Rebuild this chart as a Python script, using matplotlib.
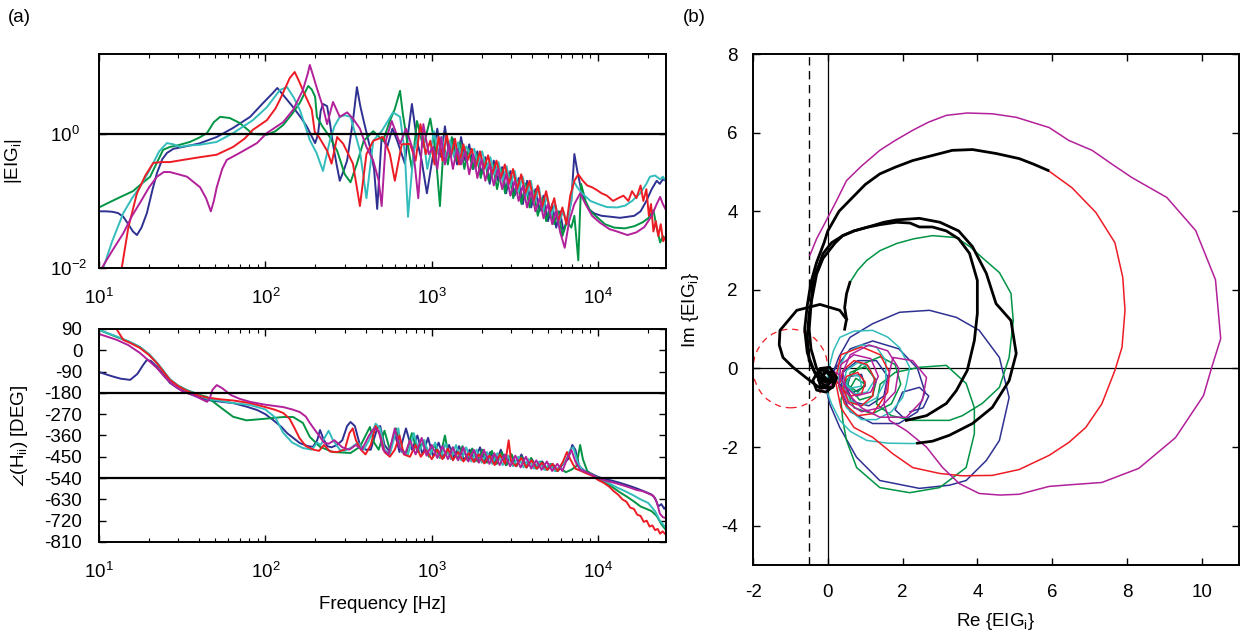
import numpy as np
import matplotlib.pyplot as plt
from matplotlib.patches import Circle

plt.rcParams['font.family'] = ['Liberation Sans', 'DejaVu Sans']
plt.rcParams['mathtext.default'] = 'regular'
plt.rcParams['axes.unicode_minus'] = False
plt.rcParams['font.size'] = 13.5

# line colours per eigenvalue
c_blue = '#2e3192'
c_green = '#009444'
c_red = '#ed1c24'
c_cyan = '#33bcbc'
c_mag = '#b2209a'

# |EIG_i| vs frequency (Hz, magnitude)
mag_blue = [(10, 0.07), (11, 0.07), (12, 0.069), (13, 0.066), (14, 0.058), (15, 0.045), (16, 0.035),
            (16.9, 0.031), (18, 0.04), (19.4, 0.066), (21, 0.15), (22.3, 0.26), (24, 0.42), (25.6, 0.52),
            (28, 0.6), (32, 0.64), (40, 0.72), (51, 0.9), (64, 1.23), (81, 1.8), (97, 2.9), (110, 4.0),
            (118, 4.85), (128, 3.8), (147, 2.5), (165, 1.7), (178, 1.27), (199, 0.73), (207, 0.97),
            (215, 2.2), (222, 2.8), (235, 2.6), (245, 1.4), (255, 0.7), (268, 0.35), (280, 0.2), (295, 0.28),
            (310, 0.4), (336, 1.56), (355, 5.0), (372, 2.6), (390, 1.56), (425, 0.64), (450, 0.3),
            (470, 0.076), (500, 0.9), (540, 0.64), (580, 1.2), (620, 0.79), (690, 0.36), (720, 1.0),
            (760, 2.8), (815, 0.79), (870, 0.4), (935, 0.13), (1020, 0.5), (1080, 1.2), (1140, 0.45),
            (1200, 1.3), (1270, 0.5), (1340, 0.85), (1420, 0.35), (1500, 0.9), (1590, 0.4), (1680, 0.7),
            (1780, 0.3), (1880, 0.55), (1990, 0.25), (2100, 0.45), (2230, 0.18), (2360, 0.4), (2500, 0.2),
            (2650, 0.32), (2800, 0.13), (2970, 0.28), (3150, 0.12), (3330, 0.22), (3530, 0.09), (3740, 0.2),
            (3960, 0.08), (4200, 0.15), (4450, 0.07), (4700, 0.12), (5000, 0.05), (5300, 0.09), (5600, 0.04),
            (5900, 0.07), (6200, 0.035), (6600, 0.06), (6900, 0.1), (7200, 0.5), (7500, 0.28), (7900, 0.15),
            (8300, 0.1), (8800, 0.075), (9500, 0.065), (10500, 0.06), (12000, 0.058), (13500, 0.056),
            (15000, 0.058), (16500, 0.06), (18000, 0.07), (19500, 0.1), (21000, 0.15), (22500, 0.2),
            (23500, 0.18), (24500, 0.21), (25600, 0.2)]
mag_green = [(10, 0.08), (12, 0.1), (14, 0.12), (16, 0.14), (18, 0.18), (20.3, 0.23), (22, 0.35), (24.3, 0.58),
             (26.7, 0.64), (30, 0.68), (35.2, 0.76), (40, 0.88), (44.6, 1.03), (49, 1.5), (53.5, 1.8), (61, 1.73),
             (70, 1.46), (84, 1.0), (102, 0.97), (115, 1.1), (128, 1.36), (145, 2.0), (161, 2.9), (181, 5.2),
             (190, 4.6), (199, 3.6), (204, 1.8), (220, 1.3), (244, 0.9), (270, 0.56), (300, 0.25), (325, 0.19),
             (355, 0.36), (390, 0.79), (445, 1.1), (510, 0.79), (560, 1.56), (600, 2.36), (645, 4.4),
             (670, 2.0), (705, 0.9), (760, 0.3), (815, 1.56), (890, 0.64), (980, 1.7), (1050, 0.6),
             (1120, 0.084), (1180, 0.7), (1250, 0.35), (1320, 0.9), (1400, 0.4), (1480, 0.75), (1570, 0.3),
             (1660, 0.6), (1760, 0.3), (1860, 0.5), (1970, 0.22), (2080, 0.42), (2200, 0.2), (2330, 0.35),
             (2470, 0.15), (2610, 0.3), (2760, 0.13), (2920, 0.25), (3090, 0.11), (3270, 0.2), (3460, 0.09),
             (3660, 0.18), (3870, 0.08), (4100, 0.14), (4340, 0.06), (4600, 0.11), (4870, 0.05), (5150, 0.08),
             (5450, 0.045), (5770, 0.07), (6100, 0.03), (6500, 0.05), (6900, 0.04), (7200, 0.06), (7600, 0.013),
             (7900, 0.18), (8400, 0.1), (9000, 0.07), (9800, 0.058), (11000, 0.045), (12500, 0.04),
             (14500, 0.039), (16500, 0.042), (18500, 0.048), (20000, 0.055), (21500, 0.073), (22500, 0.04),
             (23600, 0.024), (24500, 0.03), (25600, 0.026)]
mag_red = [(13.2, 0.007), (13.7, 0.01), (15, 0.04), (16.9, 0.13), (19, 0.24), (21.2, 0.37), (24, 0.38), (26.7, 0.38),
           (32, 0.41), (40.5, 0.45), (51, 0.49), (64, 0.64), (75, 0.85), (84, 1.15), (102, 1.6), (115, 2.4),
           (122, 3.2), (140, 6.8), (150, 8.4), (160, 6.0), (168, 4.5), (190, 2.3), (198, 1.07), (210, 0.9),
           (235, 0.56), (250, 0.36), (270, 0.9), (294, 0.71), (336, 0.36), (370, 0.084), (405, 0.5), (445, 0.79),
           (510, 0.9), (560, 0.5), (600, 0.2), (660, 0.7), (740, 0.71), (800, 0.4), (855, 1.4), (920, 0.5),
           (980, 0.79), (1040, 0.35), (1100, 0.9), (1160, 0.4), (1230, 1.0), (1300, 0.45), (1380, 0.85),
           (1460, 0.35), (1550, 0.7), (1640, 0.4), (1740, 0.6), (1840, 0.32), (1950, 0.55), (2060, 0.3),
           (2180, 0.48), (2310, 0.25), (2450, 0.4), (2600, 0.22), (2750, 0.35), (2910, 0.18), (3080, 0.3),
           (3260, 0.15), (3450, 0.25), (3650, 0.13), (3870, 0.2), (4100, 0.1), (4340, 0.17), (4600, 0.08),
           (4870, 0.14), (5150, 0.07), (5450, 0.11), (5770, 0.05), (6100, 0.08), (6450, 0.045), (6800, 0.12),
           (7200, 0.2), (7600, 0.25), (8100, 0.2), (8600, 0.17), (9200, 0.16), (9800, 0.146), (10500, 0.13),
           (11300, 0.12), (12300, 0.1), (13200, 0.11), (14200, 0.12), (15200, 0.1), (16000, 0.14),
           (17000, 0.11), (18000, 0.17), (18700, 0.1), (19500, 0.15), (20200, 0.06), (20800, 0.09),
           (21500, 0.035), (22200, 0.05), (23000, 0.03), (23800, 0.045), (24600, 0.025), (25600, 0.03)]
mag_cyan = [(10.3, 0.007), (10.6, 0.01), (12, 0.025), (14, 0.066), (15.8, 0.11), (17.6, 0.16), (19.5, 0.25),
            (21.2, 0.37), (23, 0.55), (25.6, 0.73), (28, 0.7), (30.6, 0.64), (34, 0.67), (40.5, 0.69), (51, 0.76),
            (64, 1.03), (84, 1.6), (102, 2.5), (122, 4.5), (135, 5.0), (148, 3.5), (161, 2.3), (185, 0.81),
            (203, 0.52), (222, 0.28), (244, 0.79), (260, 1.3), (280, 1.8), (300, 1.9), (325, 1.8), (370, 0.56),
            (405, 0.11), (445, 0.79), (500, 1.1), (540, 1.5), (585, 2.1), (645, 1.8), (690, 0.5), (720, 0.058),
            (775, 0.5), (830, 1.0), (890, 0.9), (940, 0.3), (980, 0.5), (1030, 1.1), (1090, 0.5), (1150, 0.9),
            (1220, 0.4), (1290, 0.8), (1360, 0.45), (1440, 0.75), (1520, 0.4), (1610, 0.65), (1700, 0.5),
            (1800, 0.6), (1900, 0.35), (2010, 0.55), (2130, 0.3), (2250, 0.45), (2380, 0.25), (2520, 0.38),
            (2670, 0.2), (2820, 0.33), (2980, 0.17), (3150, 0.28), (3330, 0.14), (3520, 0.23), (3720, 0.12),
            (3940, 0.2), (4170, 0.1), (4410, 0.16), (4660, 0.07), (4930, 0.12), (5220, 0.06), (5520, 0.09),
            (5840, 0.05), (6180, 0.07), (6540, 0.045), (6900, 0.1), (7100, 0.2), (7500, 0.16), (8000, 0.13),
            (9000, 0.1), (10000, 0.09), (11300, 0.081), (13000, 0.08), (14500, 0.085), (16000, 0.1),
            (17900, 0.13), (19500, 0.18), (20500, 0.23), (22000, 0.24), (23600, 0.21), (24500, 0.23),
            (25600, 0.2)]
mag_mag = [(10.2, 0.007), (10.4, 0.01), (12, 0.018), (14, 0.033), (15.8, 0.06), (17.6, 0.093), (20, 0.16),
           (22.3, 0.23), (24.5, 0.27), (26.7, 0.27), (30, 0.25), (33.8, 0.23), (40.5, 0.16), (44, 0.11), (47, 0.07),
           (49, 0.1), (51, 0.16), (55, 0.3), (58.6, 0.41), (70, 0.52), (89, 0.73), (102, 1.03), (128, 1.5),
           (147, 2.3), (168, 4.5), (180, 8.0), (185, 10.7), (195, 7.0), (203, 5.0), (222, 2.5), (235, 1.4),
           (255, 3.0), (280, 1.8), (310, 2.1), (336, 1.7), (370, 1.2), (405, 0.64), (445, 0.4), (480, 0.2),
           (500, 0.084), (530, 0.8), (575, 1.56), (645, 0.71), (700, 1.2), (775, 0.56), (830, 0.11), (890, 1.4),
           (960, 0.5), (1020, 0.64), (1080, 0.3), (1140, 0.9), (1200, 0.35), (1270, 0.7), (1340, 0.3),
           (1420, 0.6), (1500, 0.35), (1590, 0.55), (1680, 0.25), (1780, 0.5), (1880, 0.22), (1990, 0.42),
           (2100, 0.2), (2230, 0.35), (2360, 0.17), (2500, 0.3), (2650, 0.15), (2800, 0.25), (2970, 0.12),
           (3150, 0.2), (3330, 0.1), (3530, 0.17), (3740, 0.08), (3960, 0.14), (4200, 0.07), (4450, 0.11),
           (4700, 0.055), (5000, 0.09), (5300, 0.045), (5600, 0.07), (5900, 0.035), (6300, 0.02), (6700, 0.05),
           (7200, 0.09), (7800, 0.13), (8400, 0.09), (9200, 0.06), (10300, 0.047), (11700, 0.038),
           (13000, 0.035), (15000, 0.031), (17000, 0.034), (19000, 0.041), (21000, 0.06), (22500, 0.09),
           (23600, 0.115), (24500, 0.09), (25600, 0.073)]

# phase vs frequency (Hz, degrees)
ph_blue = [(10, -92), (12, -110), (13.5, -120), (15.4, -125), (17, -100), (18.5, -60), (19.4, -41), (20.5, -45),
           (22.3, -70), (24.5, -105), (26.7, -138), (30, -162), (33.8, -180), (40, -200), (44.6, -210), (55, -218),
           (64, -223), (77, -238), (89, -252), (100, -270), (111, -294), (125, -324), (135, -350), (150, -375),
           (161, -392), (180, -405), (193, -408), (205, -380), (213, -337), (222, -370), (235, -405), (250, -410),
           (270, -400), (290, -380), (310, -320), (325, -303), (345, -320), (370, -400), (400, -420), (430, -420),
           (470, -330), (490, -320), (520, -400), (560, -430), (600, -350), (640, -430), (700, -330), (760, -420),
           (820, -360), (880, -440), (950, -370), (1020, -450), (1100, -390), (1180, -455), (1270, -400),
           (1360, -455), (1460, -405), (1570, -465), (1690, -420), (1810, -470), (1950, -410), (2090, -475),
           (2250, -430), (2420, -480), (2600, -420), (2790, -485), (3000, -440), (3220, -490), (3460, -440),
           (3720, -495), (4000, -460), (4300, -500), (4620, -470), (4960, -505), (5330, -480), (5730, -510),
           (6150, -480), (6600, -460), (7000, -400), (7300, -420), (7700, -490), (8300, -510), (9000, -520),
           (10000, -535), (11000, -545), (12000, -550), (13500, -560), (15000, -570), (16500, -580),
           (18000, -590), (19500, -600), (21000, -610), (22000, -625), (23000, -660), (24000, -650),
           (25000, -670), (25600, -660)]
ph_green = [(10, 86), (12.8, 56), (15, 38), (17.6, 14), (20, -18), (22.3, -54), (24.5, -90), (26.7, -125), (30, -150),
            (33.8, -168), (40, -188), (44.6, -197), (53.5, -240), (64, -281), (77, -296), (97, -290), (128, -282),
            (147, -282), (168, -307), (185, -366), (213, -408), (255, -430), (325, -434), (370, -408), (425, -324),
            (450, -390), (480, -420), (520, -340), (560, -420), (610, -330), (650, -410), (700, -440), (760, -350),
            (820, -430), (900, -380), (960, -450), (1040, -400), (1120, -455), (1200, -360), (1260, -440),
            (1340, -410), (1430, -460), (1530, -405), (1640, -465), (1750, -415), (1880, -470), (2010, -420),
            (2150, -475), (2300, -425), (2460, -480), (2640, -430), (2820, -485), (3020, -440), (3230, -490),
            (3460, -450), (3700, -495), (3960, -455), (4240, -500), (4540, -470), (4860, -505), (5200, -480),
            (5570, -510), (5960, -500), (6400, -515), (6900, -505), (7400, -490), (7800, -400), (8100, -460),
            (8600, -510), (9200, -525), (10000, -540), (11000, -560), (12000, -575), (13500, -600),
            (15000, -620), (16500, -640), (18000, -660), (19500, -670), (21000, -680), (22500, -700),
            (24000, -735), (25600, -760)]
ph_red = [(12.5, 100), (13, 80), (14, 44), (15.5, 30), (17.6, 10), (20, -20), (22.3, -55), (24.5, -92), (26.7, -125),
          (30, -152), (33.8, -172), (40, -192), (44.6, -200), (55, -208), (64, -212), (81, -223), (100, -240),
          (115, -252), (128, -265), (140, -290), (150, -330), (160, -370), (175, -405), (195, -420), (210, -425),
          (225, -400), (245, -428), (270, -430), (300, -420), (320, -350), (335, -330), (350, -380), (375, -420),
          (400, -440), (430, -400), (460, -320), (490, -360), (520, -430), (560, -450), (600, -420), (640, -360),
          (680, -440), (740, -450), (800, -400), (860, -450), (920, -420), (1000, -460), (1080, -420),
          (1160, -460), (1250, -415), (1340, -465), (1440, -430), (1550, -470), (1670, -435), (1790, -472),
          (1920, -440), (2070, -478), (2220, -445), (2390, -485), (2570, -440), (2760, -480), (2900, -380),
          (3000, -470), (3200, -490), (3450, -455), (3700, -495), (3980, -465), (4280, -500), (4600, -475),
          (4950, -505), (5320, -480), (5720, -510), (6150, -470), (6500, -430), (6800, -460), (7300, -500),
          (7900, -510), (8500, -520), (9200, -530), (10000, -548), (10800, -560), (11600, -575), (12400, -595),
          (13200, -610), (14000, -630), (14800, -640), (15600, -665), (16400, -670), (17200, -695),
          (18000, -700), (18800, -725), (19600, -720), (20400, -745), (21200, -740), (22000, -760),
          (22800, -755), (23600, -775), (24400, -765), (25600, -780)]
ph_cyan = [(10, 86), (12.8, 58), (15, 38), (17.6, 14), (20, -16), (22.3, -52), (24.5, -88), (26.7, -122), (30, -150),
           (33.8, -170), (40, -190), (44.6, -205), (55, -215), (64, -223), (81, -231), (100, -250), (115, -285),
           (128, -349), (145, -390), (168, -413), (190, -420), (205, -390), (215, -400), (240, -340), (255, -380),
           (280, -420), (300, -425), (330, -410), (360, -390), (390, -420), (420, -380), (460, -310), (490, -330),
           (520, -420), (560, -440), (600, -360), (630, -330), (660, -430), (720, -440), (780, -350), (840, -430),
           (900, -380), (970, -445), (1050, -390), (1130, -455), (1210, -395), (1300, -460), (1400, -400),
           (1500, -465), (1610, -410), (1730, -470), (1860, -420), (2000, -475), (2150, -430), (2310, -480),
           (2480, -435), (2670, -485), (2870, -445), (3080, -490), (3310, -450), (3560, -495), (3820, -460),
           (4110, -500), (4420, -470), (4750, -505), (5100, -480), (5480, -510), (5900, -490), (6350, -470),
           (6800, -420), (7100, -410), (7500, -470), (8000, -505), (8700, -520), (9500, -532), (10500, -545),
           (11500, -560), (13000, -580), (14500, -595), (16000, -610), (18000, -630), (20000, -645),
           (22000, -680), (23500, -720), (24500, -735), (25600, -750)]
ph_mag = [(10, 69), (12.8, 44), (15, 22), (17.6, -11), (20, -45), (22.3, -75), (25, -115), (28, -147), (32, -175),
          (37, -189), (41, -205), (44.6, -218), (46.5, -200), (48, -168), (51, -147), (55, -160), (62, -189),
          (70, -205), (81, -218), (100, -230), (128, -240), (145, -250), (161, -261), (175, -280), (185, -307),
          (200, -340), (213, -366), (225, -390), (240, -395), (260, -380), (290, -410), (320, -420), (350, -400),
          (380, -420), (420, -360), (450, -330), (480, -340), (510, -420), (550, -440), (600, -330), (640, -410),
          (690, -440), (740, -380), (800, -440), (870, -370), (930, -445), (1000, -400), (1080, -455),
          (1160, -405), (1250, -460), (1340, -410), (1440, -465), (1550, -410), (1660, -470), (1790, -420),
          (1920, -475), (2060, -420), (2220, -480), (2380, -435), (2560, -485), (2750, -440), (2960, -490),
          (3180, -445), (3420, -495), (3680, -450), (3960, -500), (4250, -465), (4570, -505), (4920, -470),
          (5290, -510), (5690, -480), (6100, -510), (6500, -460), (6900, -420), (7300, -470), (7800, -505),
          (8500, -515), (9300, -528), (10000, -540), (11000, -550), (12500, -560), (14000, -570), (15500, -580),
          (17000, -590), (18500, -595), (20000, -605), (21500, -615), (22500, -640), (23500, -690),
          (24500, -705), (25600, -710)]

# Nyquist traces (Re, Im); black parts drawn thicker
nyq_blue = [(0.1, -0.2), (0.3, 0.3), (0.59, 0.79), (1.2, 1.14), (1.92, 1.43), (2.72, 1.48), (3.44, 1.3), (4.05, 0.97),
            (4.59, 0.28), (4.85, -0.74), (4.59, -1.83), (4.24, -2.34), (3.7, -2.85), (3.25, -2.97), (2.45, -3.05),
            (1.39, -2.85), (0.77, -2.26), (0.32, -1.5), (0.05, -0.9), (-0.05, -0.5), (0.2, 0.0), (0.6, 0.5),
            (1.2, 0.7), (1.9, 0.5), (2.4, 0.0), (2.6, -0.6), (2.4, -1.1), (1.9, -1.4), (1.2, -1.4), (0.6, -1.1),
            (0.35, -0.6), (0.4, -0.1), (0.8, 0.2), (1.3, 0.2), (1.6, -0.2), (1.5, -0.7), (1.1, -0.95), (0.7, -0.85),
            (0.5, -0.5), (0.6, -0.2), (0.9, -0.15), (1.0, -0.45), (0.7, -0.6), (0.3, -0.4), (0.1, -0.2)]
nyq_blue_b = [(2.1, -1.32), (1.8, -1.05), (2.0, -0.6), (2.45, -0.48), (2.7, -0.7), (2.55, -1.0), (2.2, -1.1)]
nyq_green = [(0.59, 2.19), (0.8, 2.5), (1.04, 2.75), (1.4, 3.0), (1.84, 3.18), (2.3, 3.3), (2.8, 3.38), (3.44, 3.33),
             (3.8, 3.1), (4.13, 2.82), (4.59, 2.44), (4.9, 1.91), (4.96, 1.22), (4.85, 0.28), (4.59, -0.48),
             (4.13, -0.89), (3.6, -1.2), (3.25, -1.32), (2.27, -1.32), (1.7, -1.2), (1.3, -0.9), (1.4, -0.4),
             (1.8, -0.1), (2.45, 0.03), (3.17, 0.08), (3.7, -0.38), (3.92, -1.0), (3.92, -1.66), (3.7, -2.52),
             (2.99, -3.03), (2.19, -3.16), (1.39, -3.03), (0.77, -2.52), (0.5, -1.83), (0.4, -1.32), (0.35, -0.8),
             (0.5, -0.3), (0.9, 0.1), (1.4, 0.3), (1.8, 0.1), (1.95, -0.4), (1.7, -0.9), (1.2, -1.15), (0.7, -1.0),
             (0.5, -0.55), (0.6, -0.1), (1.0, 0.05), (1.3, -0.3), (1.2, -0.7), (0.85, -0.8), (0.6, -0.5),
             (0.75, -0.25), (1.0, -0.4), (0.8, -0.6), (0.5, -0.4), (0.2, -0.2), (0.05, -0.1)]
nyq_red = [(5.89, 5.04), (6.53, 4.6), (7.17, 3.97), (7.68, 3.2), (7.89, 2.32), (7.95, 1.48), (7.87, 0.54),
           (7.68, -0.05), (7.33, -0.9), (6.9, -1.5), (6.45, -1.88), (5.92, -2.21), (5.12, -2.57), (4.4, -2.72),
           (3.6, -2.73), (2.99, -2.67), (2.27, -2.52), (1.74, -2.17), (1.2, -1.75), (0.7, -1.5), (0.35, -1.0),
           (0.2, -0.3), (0.35, 0.35), (0.9, 0.55), (1.4, 0.35), (1.65, -0.1), (1.6, -0.6), (1.2, -1.15),
           (0.8, -1.2), (0.45, -0.9), (0.3, -0.45), (0.4, -0.05), (0.7, 0.2), (1.05, 0.1), (1.25, -0.25),
           (1.2, -0.7), (0.9, -0.95), (0.55, -0.85), (0.4, -0.5), (0.5, -0.2), (0.8, -0.1), (1.0, -0.35),
           (0.9, -0.65), (0.6, -0.7), (0.35, -0.5), (0.2, -0.25), (0.1, -0.1)]
nyq_cyan = [(2.4, -1.9), (2.27, -1.91), (1.6, -1.9), (1.04, -1.83), (0.6, -1.6), (0.32, -1.32), (0.1, -0.9),
            (-0.03, -0.56), (0.0, -0.1), (0.15, 0.45), (0.32, 0.79), (0.7, 0.95), (1.2, 0.97), (1.6, 0.8),
            (1.92, 0.53), (2.19, 0.03), (2.1, -0.4), (2.0, -0.74), (1.7, -1.1), (1.3, -1.3), (0.9, -1.3),
            (0.5, -1.0), (0.3, -0.5), (0.3, 0.0), (0.5, 0.4), (0.9, 0.6), (1.3, 0.55), (1.55, 0.2), (1.55, -0.3),
            (1.3, -0.75), (0.9, -0.95), (0.55, -0.8), (0.4, -0.45), (0.5, -0.05), (0.8, 0.15), (1.1, 0.05),
            (1.25, -0.3), (1.05, -0.6), (0.7, -0.65), (0.5, -0.4), (0.6, -0.15), (0.85, -0.2), (0.9, -0.45),
            (0.6, -0.5), (0.3, -0.3), (0.1, -0.15)]
nyq_mag = [(-0.48, 2.88), (-0.3, 3.3), (0.0, 3.84), (0.25, 4.3), (0.5, 4.78), (0.9, 5.15), (1.39, 5.55), (1.8, 5.8),
           (2.27, 6.06), (2.7, 6.27), (3.17, 6.44), (3.73, 6.5), (4.4, 6.48), (5.04, 6.39), (5.92, 6.13),
           (6.45, 5.8), (7.07, 5.55), (7.6, 5.2), (8.13, 4.86), (9.07, 4.35), (9.84, 3.51), (10.37, 2.26),
           (10.51, 0.76), (10.27, 0.03), (10.05, -0.69), (9.3, -1.76), (8.32, -2.54), (7.33, -2.9), (6.6, -2.95),
           (5.92, -3.0), (5.12, -3.2), (4.6, -3.22), (4.05, -3.18), (3.52, -2.93), (3.07, -2.52), (2.64, -2.0),
           (2.1, -1.58), (1.65, -1.32), (1.5, -0.9), (1.6, -0.3), (1.74, 0.28), (2.27, 0.2), (2.64, -0.23),
           (2.53, -0.81), (2.1, -1.24), (1.39, -1.24), (0.9, -1.0), (0.5, -0.6), (0.4, -0.1), (0.6, 0.35),
           (1.1, 0.6), (1.6, 0.45), (1.9, 0.0), (1.8, -0.6), (1.4, -1.0), (0.9, -1.1), (0.5, -0.85), (0.3, -0.4),
           (0.35, 0.1), (0.7, 0.35), (1.15, 0.25), (1.35, -0.2), (1.15, -0.6), (0.75, -0.7), (0.45, -0.45),
           (0.3, -0.15), (0.1, -0.05), (-0.1, -0.15), (-0.15, -0.4), (0.0, -0.55), (0.15, -0.35), (0.05, -0.2)]
nyq_black = [
    [(-0.1, -0.3), (-0.35, -0.1), (-0.55, 0.4), (-0.62, 1.0), (-0.55, 1.6), (-0.45, 2.2), (-0.3, 2.7), (-0.1, 3.2),
     (0.0, 3.5), (0.3, 4.0), (0.67, 4.36), (1.0, 4.68), (1.39, 4.95), (1.8, 5.12), (2.27, 5.29), (2.8, 5.42),
     (3.33, 5.55), (3.87, 5.57), (4.5, 5.47), (5.12, 5.34), (5.5, 5.2), (5.89, 5.04)],
    [(-0.05, -0.35), (-0.3, -0.2), (-0.5, 0.2), (-0.55, 0.8), (-0.5, 1.4), (-0.4, 1.9), (-0.3, 2.4), (-0.13, 2.8),
     (0.2, 3.2), (0.4, 3.38), (0.7, 3.5), (1.04, 3.59), (1.5, 3.72), (1.84, 3.78), (2.45, 3.82), (3.0, 3.72),
     (3.5, 3.5), (3.87, 3.1), (4.24, 2.42), (4.5, 1.65), (4.9, 1.22), (5.04, 0.38), (4.85, -0.31), (4.4, -0.99),
     (3.87, -1.4), (3.25, -1.7), (2.8, -1.85), (2.4, -1.9)],
    [(0.0, -0.3), (-0.3, 0.0), (-0.45, 0.5), (-0.5, 1.0), (-0.45, 1.6), (-0.4, 2.24), (-0.25, 2.6), (-0.13, 2.92),
     (0.1, 3.2), (0.4, 3.38), (0.7, 3.5), (1.04, 3.59), (1.4, 3.66), (1.84, 3.72), (2.2, 3.7), (2.45, 3.6),
     (2.8, 3.6), (3.17, 3.5), (3.5, 3.3), (3.79, 2.93), (4.0, 2.24), (4.0, 1.4), (3.92, 0.71), (3.73, -0.05),
     (3.44, -0.56), (3.17, -0.89), (2.64, -1.2), (2.1, -1.32)],
    [(0.59, 2.19), (0.5, 1.9), (0.45, 1.55), (0.5, 1.25), (0.45, 1.0)],
    [(0.5, 1.25), (0.32, 1.48), (-0.21, 1.63), (-0.83, 1.48), (-1.28, 0.97), (-1.3, 0.6), (-1.2, 0.28),
     (-0.93, 0.03), (-0.56, -0.25), (-0.21, -0.5), (0.13, -0.48), (0.24, -0.23), (0.05, 0.03), (-0.21, 0.0),
     (-0.25, -0.3), (-0.05, -0.45), (0.15, -0.3), (0.1, -0.1), (-0.1, -0.1), (-0.15, -0.3), (0.0, -0.35)],
    [(0.1, -0.3), (0.0, -0.05), (-0.25, -0.05), (-0.4, -0.3), (-0.3, -0.55), (-0.05, -0.6), (0.15, -0.45),
     (0.15, -0.2), (-0.05, -0.1), (-0.25, -0.25), (-0.2, -0.45), (0.0, -0.45), (0.05, -0.3), (-0.1, -0.25)],
]


def xy(pairs):
    a = np.array(pairs, dtype=float)
    return a[:, 0], a[:, 1]


fig = plt.figure(figsize=(12.47, 6.35), dpi=100)
ax_mag = fig.add_axes([0.0794, 0.578, 0.4547, 0.337])
ax_ph = fig.add_axes([0.0794, 0.1465, 0.4547, 0.3354])
ax_nq = fig.add_axes([0.6039, 0.1102, 0.3897, 0.8047])

lw_left = 1.4
for pairs, col in [(mag_blue, c_blue), (mag_green, c_green), (mag_cyan, c_cyan), (mag_red, c_red), (mag_mag, c_mag)]:
    f, m = xy(pairs)
    ax_mag.plot(f, m, color=col, lw=lw_left)
ax_mag.axhline(1.0, color='k', lw=1.6)
ax_mag.set_xscale('log')
ax_mag.set_yscale('log')
ax_mag.set_xlim(10, 25600)
ax_mag.set_ylim(1e-2, 15.6)
ax_mag.set_yticks([1e-2, 1e0])
ax_mag.set_yticklabels(['$10^{-2}$', '$10^{0}$'])
ax_mag.yaxis.set_minor_locator(plt.NullLocator())
ax_mag.set_ylabel('|EIG$_i$|')
ax_mag.yaxis.set_label_coords(-0.132, 0.5)

for pairs, col in [(ph_blue, c_blue), (ph_green, c_green), (ph_cyan, c_cyan), (ph_red, c_red), (ph_mag, c_mag)]:
    f, p = xy(pairs)
    ax_ph.plot(f, p, color=col, lw=lw_left)
ax_ph.axhline(-180, color='k', lw=1.6)
ax_ph.axhline(-540, color='k', lw=1.6)
ax_ph.set_xscale('log')
ax_ph.set_xlim(10, 25600)
ax_ph.set_ylim(-810, 90)
ax_ph.set_yticks(np.arange(-810, 91, 90))
ax_ph.set_ylabel(r'$\angle$(H$_{ii}$) [DEG]')
ax_ph.yaxis.set_label_coords(-0.122, 0.5)
ax_ph.set_xlabel('Frequency [Hz]')
ax_ph.xaxis.set_label_coords(0.5, -0.254)

for ax in (ax_mag, ax_ph):
    ax.set_xticks([10, 100, 1000, 10000])
    ax.set_xticklabels(['$10^{1}$', '$10^{2}$', '$10^{3}$', '$10^{4}$'])
    ax.tick_params(axis='x', which='major', pad=14)
ax_ph.tick_params(axis='y', which='major', pad=12)
ax_mag.tick_params(axis='y', which='major', pad=35)
for lab in ax_mag.get_yticklabels():
    lab.set_horizontalalignment('left')

# Nyquist diagram
ax_nq.add_patch(Circle((-1, 0), 1, fill=False, ec=c_red, ls=(0, (5, 4)), lw=0.9))
ax_nq.axhline(0, color='k', lw=0.9)
ax_nq.axvline(0, color='k', lw=0.9)
ax_nq.axvline(-0.5, color='k', lw=1.0, ls=(0, (6, 4)))
for pairs, col in [(nyq_blue, c_blue), (nyq_blue_b, c_blue), (nyq_green, c_green), (nyq_cyan, c_cyan),
                   (nyq_red, c_red), (nyq_mag, c_mag)]:
    x, y = xy(pairs)
    ax_nq.plot(x, y, color=col, lw=1.1)
for pairs in nyq_black:
    x, y = xy(pairs)
    ax_nq.plot(x, y, color='k', lw=2.0)
ax_nq.set_xlim(-2, 11)
ax_nq.set_ylim(-5, 8)
ax_nq.set_xticks(np.arange(-2, 11, 2))
ax_nq.set_yticks(np.arange(-4, 9, 2))
ax_nq.set_xlabel('Re {EIG$_i$}')
ax_nq.xaxis.set_label_coords(0.5, -0.09)
ax_nq.set_ylabel('Im {EIG$_i$}')
ax_nq.yaxis.set_label_coords(-0.107, 0.5)
ax_nq.tick_params(axis='x', pad=14)
ax_nq.tick_params(axis='y', pad=11)

for ax in (ax_mag, ax_ph, ax_nq):
    ax.tick_params(which='both', direction='in', top=True, right=True, labelsize=13.5)
    ax.tick_params(which='major', length=5, width=1)
    ax.tick_params(which='minor', length=3, width=0.8)
    for s in ax.spines.values():
        s.set_linewidth(1.4)

fig.text(8 / 1247, 1 - 18 / 635, '(a)', fontsize=13.5, va='center')
fig.text(683 / 1247, 1 - 18 / 635, '(b)', fontsize=13.5, va='center')

fig.savefig('out.png', dpi=100)
